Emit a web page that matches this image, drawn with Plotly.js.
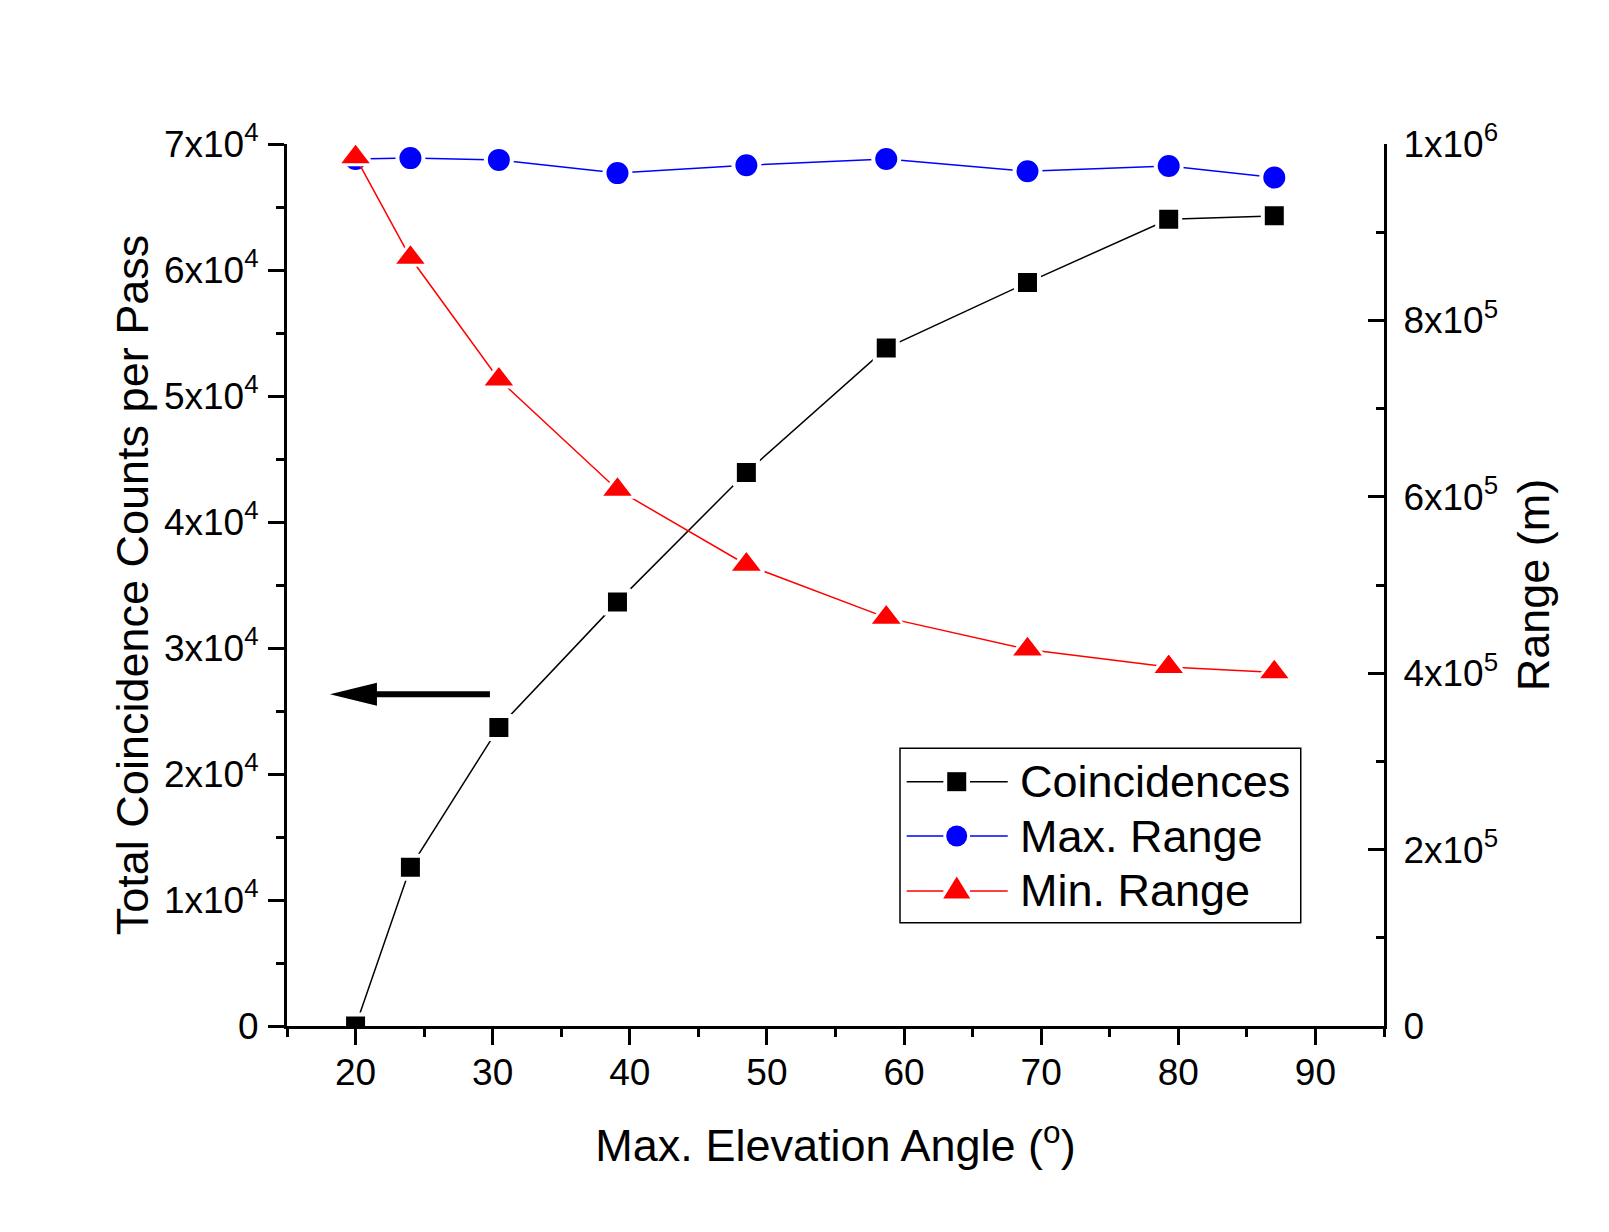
<!DOCTYPE html>
<html>
<head>
<meta charset="utf-8">
<script src="https://cdn.plot.ly/plotly-3.0.1.min.js"></script>
<style>
  html, body { margin: 0; padding: 0; background: #ffffff; }
  #chart { width: 1609px; height: 1232px; }
</style>
</head>
<body>
<div id="chart"></div>
<script>
// Maximum elevation angle of each pass (degrees)
const elevation = [20, 24, 30.45, 39.1, 48.5, 58.7, 69, 79.3, 87];
// Total coincidence counts per pass (left axis)
const coincidences = [0, 12600, 23700, 33660, 43930, 53800, 59000, 64030, 64300];
// Maximum and minimum slant range during the pass, metres (right axis)
const maxRange = [983000, 984000, 982000, 967000, 976000, 983000, 969000, 975000, 962000];
const minRange = [985000, 871000, 733000, 608000, 523000, 463000, 427000, 407000, 401000];

const seriesNames = ['Coincidences', 'Max. Range', 'Min. Range'];
const seriesColors = ['#000000', '#0000ff', '#ff0000'];

const leftTickVals = [0, 10000, 20000, 30000, 40000, 50000, 60000, 70000];
const leftTickText = ['0', '1x10<sup>4</sup>', '2x10<sup>4</sup>', '3x10<sup>4</sup>',
                      '4x10<sup>4</sup>', '5x10<sup>4</sup>', '6x10<sup>4</sup>', '7x10<sup>4</sup>'];
const rightTickVals = [0, 200000, 400000, 600000, 800000, 1000000];
const rightTickText = ['0', '2x10<sup>5</sup>', '4x10<sup>5</sup>', '6x10<sup>5</sup>',
                       '8x10<sup>5</sup>', '1x10<sup>6</sup>'];

const FONT = 'Liberation Sans, Arial, Helvetica, sans-serif';

// white marker outline leaves a small gap where the line meets each marker
const halo = { color: '#ffffff', width: 4 };

const traces = [
  {
    x: elevation, y: coincidences, name: seriesNames[0], yaxis: 'y',
    type: 'scatter', mode: 'lines+markers',
    line: { color: seriesColors[0], width: 1.5 },
    marker: { symbol: 'square', size: 23, color: seriesColors[0], line: halo }
  },
  {
    x: elevation, y: maxRange, name: seriesNames[1], yaxis: 'y2',
    type: 'scatter', mode: 'lines+markers',
    line: { color: seriesColors[1], width: 1.5 },
    marker: { symbol: 'circle', size: 26, color: seriesColors[1], line: halo }
  },
  {
    x: elevation, y: minRange, name: seriesNames[2], yaxis: 'y2',
    type: 'scatter', mode: 'lines+markers',
    line: { color: seriesColors[2], width: 1.5 },
    marker: { symbol: 'triangle-up', size: 30, color: seriesColors[2], line: { color: '#ffffff', width: 3 } }
  }
];

// ----- legend box drawn with shapes + annotations -----
const legendBox = { x0: 0.5588, x1: 0.9241, y0: 0.1171, y1: 0.3149 };
const legendRows = [0.2770, 0.2154, 0.1531];
const legendLine = { a0: 0.5649, a1: 0.5983, b0: 0.6226, b1: 0.6570, mid: 0.6105, text: 0.6665 };

const shapes = [];
const annotations = [];

shapes.push({
  type: 'rect', xref: 'paper', yref: 'paper',
  x0: legendBox.x0, x1: legendBox.x1, y0: legendBox.y0, y1: legendBox.y1,
  line: { color: '#000000', width: 1.5 }, fillcolor: '#ffffff', layer: 'above'
});

const legendSymbols = [
  { type: 'rect', x0: -9.5, x1: 9.5, y0: -9.5, y1: 9.5 },
  { type: 'circle', x0: -10.5, x1: 10.5, y0: -10.5, y1: 10.5 },
  { type: 'path', path: 'M-13.5,-7.5 L13.5,-7.5 L0,14.5 Z' }
];

seriesNames.forEach((name, i) => {
  const yRow = legendRows[i];
  [[legendLine.a0, legendLine.a1], [legendLine.b0, legendLine.b1]].forEach(seg => {
    shapes.push({
      type: 'line', xref: 'paper', yref: 'paper',
      x0: seg[0], x1: seg[1], y0: yRow, y1: yRow,
      line: { color: seriesColors[i], width: 1.5 }, layer: 'above'
    });
  });
  const sym = Object.assign({
    xref: 'paper', yref: 'paper',
    xsizemode: 'pixel', ysizemode: 'pixel',
    xanchor: legendLine.mid, yanchor: yRow,
    fillcolor: seriesColors[i], line: { width: 0 }, layer: 'above'
  }, legendSymbols[i]);
  shapes.push(sym);
  annotations.push({
    xref: 'paper', yref: 'paper', x: legendLine.text, y: yRow,
    xanchor: 'left', yanchor: 'middle', showarrow: false,
    text: name, font: { family: FONT, size: 45, color: '#000000' }
  });
});

// ----- arrow pointing at the left axis -----
const arrowTip = { x: 18.13, y: 26320 };
shapes.push({
  type: 'path', xref: 'x', yref: 'y', xsizemode: 'pixel', ysizemode: 'pixel',
  xanchor: arrowTip.x, yanchor: arrowTip.y,
  path: 'M0,0 L47,11.5 L47,-11.5 Z', fillcolor: '#000000', line: { width: 0 }
});
shapes.push({
  type: 'line', xref: 'x', yref: 'y', xsizemode: 'pixel', ysizemode: 'pixel',
  xanchor: arrowTip.x, yanchor: arrowTip.y,
  x0: 44, x1: 160, y0: 0, y1: 0,
  line: { color: '#000000', width: 6 }
});

const tickFont = { family: FONT, size: 37, color: '#000000' };
const titleFont = { family: FONT, size: 45, color: '#000000' };

const layout = {
  width: 1609, height: 1232,
  margin: { l: 287, r: 225, t: 144, b: 206, pad: 0 },
  paper_bgcolor: '#ffffff', plot_bgcolor: '#ffffff',
  showlegend: false,
  font: { family: FONT, color: '#000000' },
  xaxis: {
    range: [15, 95], tickmode: 'linear', tick0: 0, dtick: 10,
    showgrid: false, zeroline: false,
    showline: true, linecolor: '#000000', linewidth: 3,
    ticks: 'outside', ticklen: 16, tickwidth: 3, tickcolor: '#000000',
    minor: { tickmode: 'linear', tick0: 0, dtick: 5, ticks: 'outside', ticklen: 8, tickwidth: 3, tickcolor: '#000000', showgrid: false },
    tickfont: tickFont, ticklabelstandoff: -4,
    title: { text: 'Max. Elevation Angle (<sup>o</sup>)', font: titleFont, standoff: 38 }
  },
  yaxis: {
    range: [0, 70000], tickmode: 'array', tickvals: leftTickVals, ticktext: leftTickText,
    showgrid: false, zeroline: false,
    showline: true, linecolor: '#000000', linewidth: 3,
    ticks: 'outside', ticklen: 16, tickwidth: 3, tickcolor: '#000000',
    minor: { tickmode: 'linear', tick0: 0, dtick: 5000, ticks: 'outside', ticklen: 8, tickwidth: 3, tickcolor: '#000000', showgrid: false },
    tickfont: tickFont, ticklabelstandoff: 2,
    title: { text: 'Total Coincidence Counts per Pass', font: titleFont, standoff: 2 }
  },
  yaxis2: {
    overlaying: 'y', side: 'right', anchor: 'x',
    range: [0, 1000000], tickmode: 'array', tickvals: rightTickVals, ticktext: rightTickText,
    showgrid: false, zeroline: false,
    showline: true, linecolor: '#000000', linewidth: 3,
    ticks: 'inside', ticklen: 16, tickwidth: 3, tickcolor: '#000000',
    minor: { tickmode: 'linear', tick0: 0, dtick: 100000, ticks: 'inside', ticklen: 8, tickwidth: 3, tickcolor: '#000000', showgrid: false },
    tickfont: tickFont, ticklabelstandoff: 9,
    title: { text: 'Range (m)', font: titleFont, standoff: 21 }
  },
  shapes: shapes,
  annotations: annotations
};

Plotly.newPlot('chart', traces, layout, { staticPlot: true, displayModeBar: false });
</script>
</body>
</html>
